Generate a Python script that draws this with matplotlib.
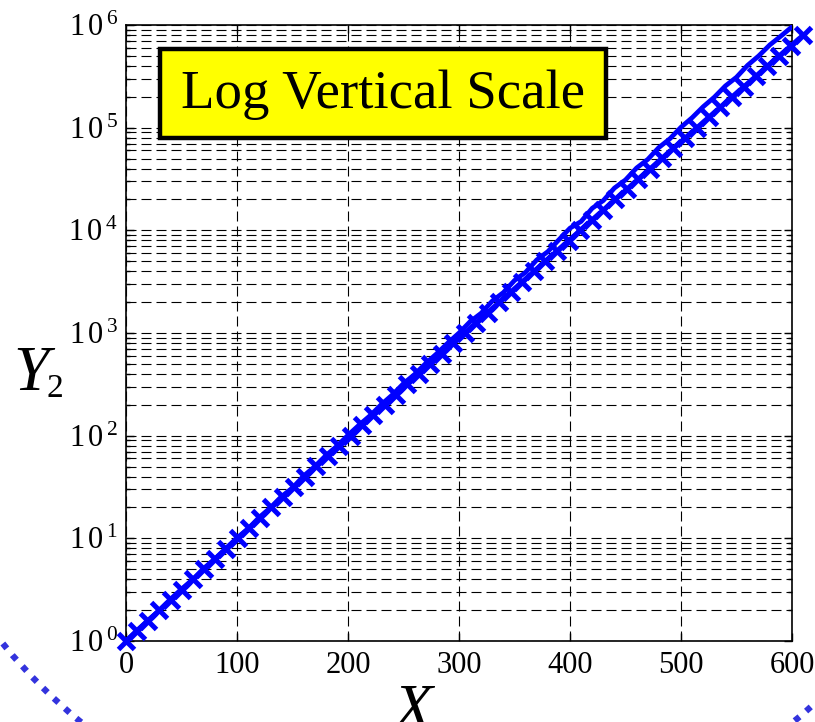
import matplotlib
matplotlib.use("Agg")
import matplotlib.pyplot as plt
from matplotlib.patches import Rectangle, Circle
from matplotlib.ticker import FixedLocator, FuncFormatter, LogLocator, NullFormatter

plt.rcParams['font.family'] = ['Liberation Serif', 'DejaVu Serif']
plt.rcParams['mathtext.fontset'] = 'custom'
plt.rcParams['mathtext.rm'] = 'Liberation Serif'
plt.rcParams['mathtext.it'] = 'Liberation Serif:italic'

# solid curve
line_x = [0, 10, 20, 30, 40, 50, 60, 70, 80, 90,
          100, 110, 120, 130, 140, 150, 160, 170, 180, 190,
          200, 210, 220, 230, 240, 250, 260, 270, 280, 290,
          300, 310, 320, 330, 340, 350, 360, 370, 380, 390,
          400, 410, 420, 430, 440, 450, 460, 470, 480, 490,
          500, 510, 520, 530, 540, 550, 560, 570, 580, 590, 600]
line_y = [1.0, 1.27, 1.6, 1.98, 2.55, 3.2, 3.95, 5.1, 6.3, 8.0,
          10.1, 12.4, 16.0, 19.8, 25.5, 31.0, 40.5, 50.0, 64.0, 79.0,
          101, 127, 157, 201, 250, 322, 395, 505, 630, 800,
          1000, 1290, 1560, 2050, 2480, 3250, 3900, 5150, 6200, 8100,
          10500, 12200, 16400, 19500, 25800, 31000, 40500, 49000, 64000, 78000,
          101000, 125000, 160000, 198000, 255000, 310000, 405000, 500000, 640000, 780000, 960000]

# marker curve
mark_x = [0.0, 10.0, 20.0, 30.1, 40.1, 50.1, 60.2, 70.3, 80.4, 90.5,
          100.6, 110.7, 120.8, 131.0, 141.1, 151.3, 161.5, 171.6, 181.8, 192.1,
          202.3, 212.5, 222.8, 233.0, 243.3, 253.6, 263.9, 274.2, 284.5, 294.8,
          305.1, 315.5, 325.8, 336.2, 346.6, 357.0, 367.4, 377.8, 388.2, 398.7,
          409.1, 419.6, 430.1, 440.5, 451.0, 461.5, 472.1, 482.6, 493.1, 503.7,
          514.3, 524.8, 535.4, 546.0, 556.6, 567.2, 577.9, 588.5, 599.2, 609.8]
mark_y = [1.0, 1.26, 1.58, 2.0, 2.51, 3.16, 3.98, 5.01, 6.31, 7.94,
          10, 12.6, 15.8, 20.0, 25.1, 31.6, 39.8, 50.1, 63.1, 79.4,
          100, 126, 158, 200, 251, 316, 398, 501, 631, 794,
          1000, 1260, 1580, 2000, 2510, 3160, 3980, 5010, 6310, 7940,
          10000, 12600, 15800, 20000, 25100, 31600, 39800, 50100, 63100, 79400,
          100000, 126000, 158000, 200000, 251000, 316000, 398000, 501000, 631000, 794000]

x_ticks = [0, 100, 200, 300, 400, 500, 600]
y_ticks = [1, 10, 100, 1000, 10000, 100000, 1000000]
y_exps = [0, 1, 2, 3, 4, 5, 6]

W, H = 815, 722
fig = plt.figure(figsize=(W / 100, H / 100), dpi=100)

# dotted circle in the background
bg = fig.add_axes([0, 0, 1, 1], zorder=0)
bg.set_xlim(0, W)
bg.set_ylim(H, 0)
bg.axis('off')
bg.add_patch(Circle((437, 290), 560, fill=False, edgecolor='#3333dd',
                    lw=4.5, linestyle=(0, (1, 1.4))))

ax = fig.add_axes([126 / W, 1 - 641 / H, 666 / W, 616 / H], zorder=1)
ax.patch.set_alpha(0)

ax.plot(line_x, line_y, '-', color='blue', lw=3.4, zorder=3)
ax.plot(mark_x, mark_y, '-x', color='blue', lw=3.4, ms=11, mew=3.6,
        zorder=3, clip_on=False)

ax.set_yscale('log')
ax.set_xlim(0, 600)
ax.set_ylim(1, 1e6)
ax.xaxis.set_major_locator(FixedLocator(x_ticks))
ax.yaxis.set_major_locator(FixedLocator(y_ticks))
ax.yaxis.set_minor_locator(LogLocator(base=10, subs=range(2, 10), numticks=20))
ax.yaxis.set_minor_formatter(NullFormatter())
ax.yaxis.set_major_formatter(FuncFormatter(
    lambda v, p: r'$1\,0^{\,%d}$' % y_exps[y_ticks.index(round(v))] if round(v) in y_ticks else ''))
ax.xaxis.set_major_formatter(FuncFormatter(lambda v, p: '%d' % v))

dash = (0, (9, 4.5))
ax.grid(True, which='major', axis='both', color='black', lw=0.8, linestyle=dash)
ax.grid(True, which='minor', axis='y', color='black', lw=0.8, linestyle=dash)
ax.set_axisbelow(True)

ax.tick_params(which='both', direction='in', top=True, right=True, width=1)
ax.tick_params(which='major', length=6)
ax.tick_params(which='minor', length=3)
ax.tick_params(axis='x', labelsize=22, pad=7)
ax.tick_params(axis='y', labelsize=22, pad=6)
for s in ax.spines.values():
    s.set_linewidth(1.2)

# title box
ax.add_patch(Rectangle((0.051, 0.8166), 0.67, 0.1444, transform=ax.transAxes,
                       facecolor='yellow', edgecolor='black', lw=3.2, zorder=5))
ax.text(0.386, 0.887, 'Log Vertical Scale', transform=ax.transAxes,
        ha='center', va='center', fontsize=39.5, zorder=6)

# axis labels
fig.text(13 / W, 1 - 390 / H, 'Y', fontsize=46, style='italic', ha='left', va='baseline')
fig.text(46 / W, 1 - 397 / H, '2', fontsize=24, ha='left', va='baseline')
fig.text(413 / W, 1 - 728 / H, 'X', fontsize=46, style='italic', ha='center', va='baseline')

fig.savefig('out.png', dpi=100)
